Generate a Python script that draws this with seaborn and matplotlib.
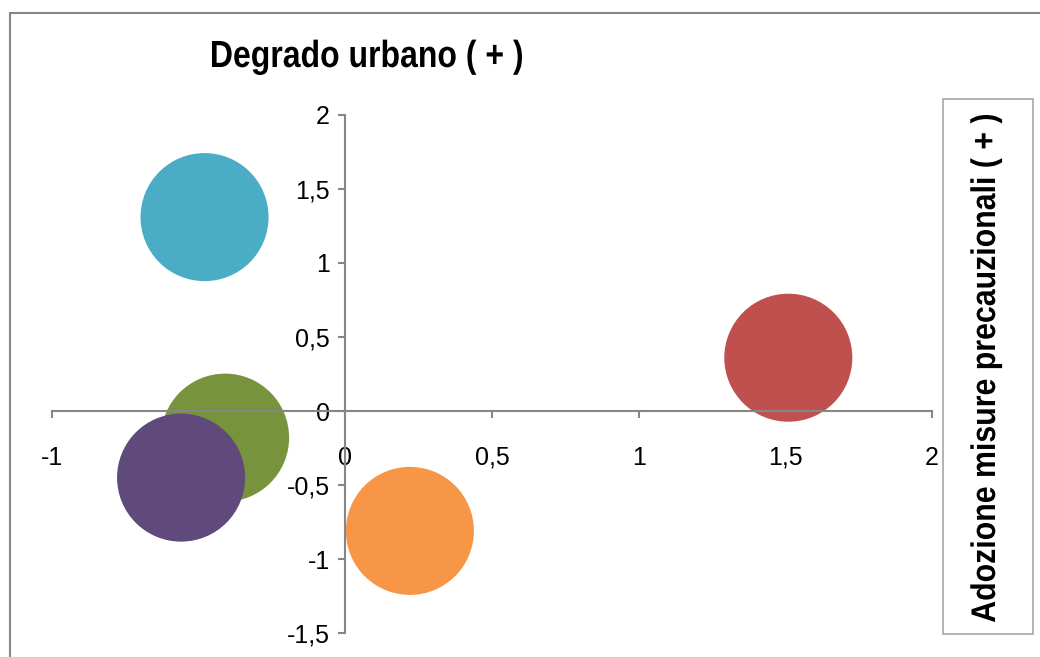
import seaborn as sns
import matplotlib.pyplot as plt
import pandas as pd
from matplotlib.patches import Rectangle, PathPatch
from matplotlib.textpath import TextPath
from matplotlib.font_manager import FontProperties
from matplotlib.transforms import Affine2D

# bubble positions
series = ["Serie 1", "Serie 2", "Serie 3", "Serie 4", "Serie 5"]
x_vals = [1.51, -0.41, -0.56, -0.48, 0.22]
y_vals = [0.36, -0.18, -0.45, 1.31, -0.81]
colors = ["#C0504D", "#77933C", "#604A7B", "#4BACC6", "#F79646"]

x_ticks = [-1, -0.5, 0, 0.5, 1, 1.5, 2]
x_labels = ["-1", "-0,5", "0", "0,5", "1", "1,5", "2"]
y_ticks = [-1.5, -1, -0.5, 0, 0.5, 1, 1.5, 2]
y_labels = ["-1,5", "-1", "-0,5", "0", "0,5", "1", "1,5", "2"]

title_x = "Degrado urbano ( + )"
title_y = "Adozione misure precauzionali ( + )"

df = pd.DataFrame({"serie": series, "x": x_vals, "y": y_vals})

sns.set_style("white")
plt.rcParams["font.family"] = ["Liberation Sans", "DejaVu Sans"]

W, H = 1040, 657
fig = plt.figure(figsize=(W / 100, H / 100), dpi=100)
ax = fig.add_axes([0.05, 0.0365, 0.8462, 0.7885])

sns.scatterplot(data=df, x="x", y="y", hue="serie", palette=colors, s=8500,
                linewidth=0, alpha=1, legend=False, ax=ax, clip_on=False)

ax.set_xlim(-1, 2)
ax.set_ylim(-1.5, 2)
ax.set_xticks(x_ticks)
ax.set_xticklabels(x_labels)
ax.set_yticks(y_ticks)
ax.set_yticklabels(y_labels)
ax.set_xlabel("")
ax.set_ylabel("")

gray = "#868686"
for side in ["top", "right"]:
    ax.spines[side].set_visible(False)
ax.spines["left"].set_position(("data", 0))
ax.spines["bottom"].set_position(("data", 0))
for side in ["left", "bottom"]:
    ax.spines[side].set_color(gray)
    ax.spines[side].set_linewidth(1.5)
ax.tick_params(axis="both", direction="out", length=5, width=1.5, color=gray,
               labelsize=18, labelcolor="black", bottom=True, left=True)
ax.tick_params(axis="x", pad=20)
ax.tick_params(axis="y", pad=6)
ax.patch.set_alpha(0)


def squeezed_text(s, left, baseline, length, cap, angle=0):
    # text drawn as a path so it can be narrowed like the condensed original
    fp = FontProperties(family="Liberation Sans", weight="bold")
    tp = TextPath((0, 0), s, size=1, prop=fp)
    ext = tp.get_extents()
    cap_h = TextPath((0, 0), "D", size=1, prop=fp).get_extents().y1
    tr = (Affine2D().translate(-ext.x0, 0)
          .scale(length / ext.width, cap / cap_h)
          .rotate_deg(angle).translate(left, baseline))
    fig.patches.append(PathPatch(tr.transform_path(tp), facecolor="black",
                                 edgecolor="none", transform=None))


# title top-left and boxed label on the right
squeezed_text(title_x, 212, H - 67, 310, 26)
fig.patches.append(Rectangle((943 / W, 1 - 634 / H), 90 / W, 535 / H,
                             transform=fig.transFigure, fill=False,
                             edgecolor="#A6A6A6", linewidth=1.2))
squeezed_text(title_y, 995, H - 622, 507, 23.5, angle=90)

# outer chart frame
fig.patches.append(Rectangle((10 / W, -0.1), 1.2, 1 - 13 / H + 0.1,
                             transform=fig.transFigure, fill=False,
                             edgecolor=gray, linewidth=1.5))

plt.savefig("out.png", dpi=100)
